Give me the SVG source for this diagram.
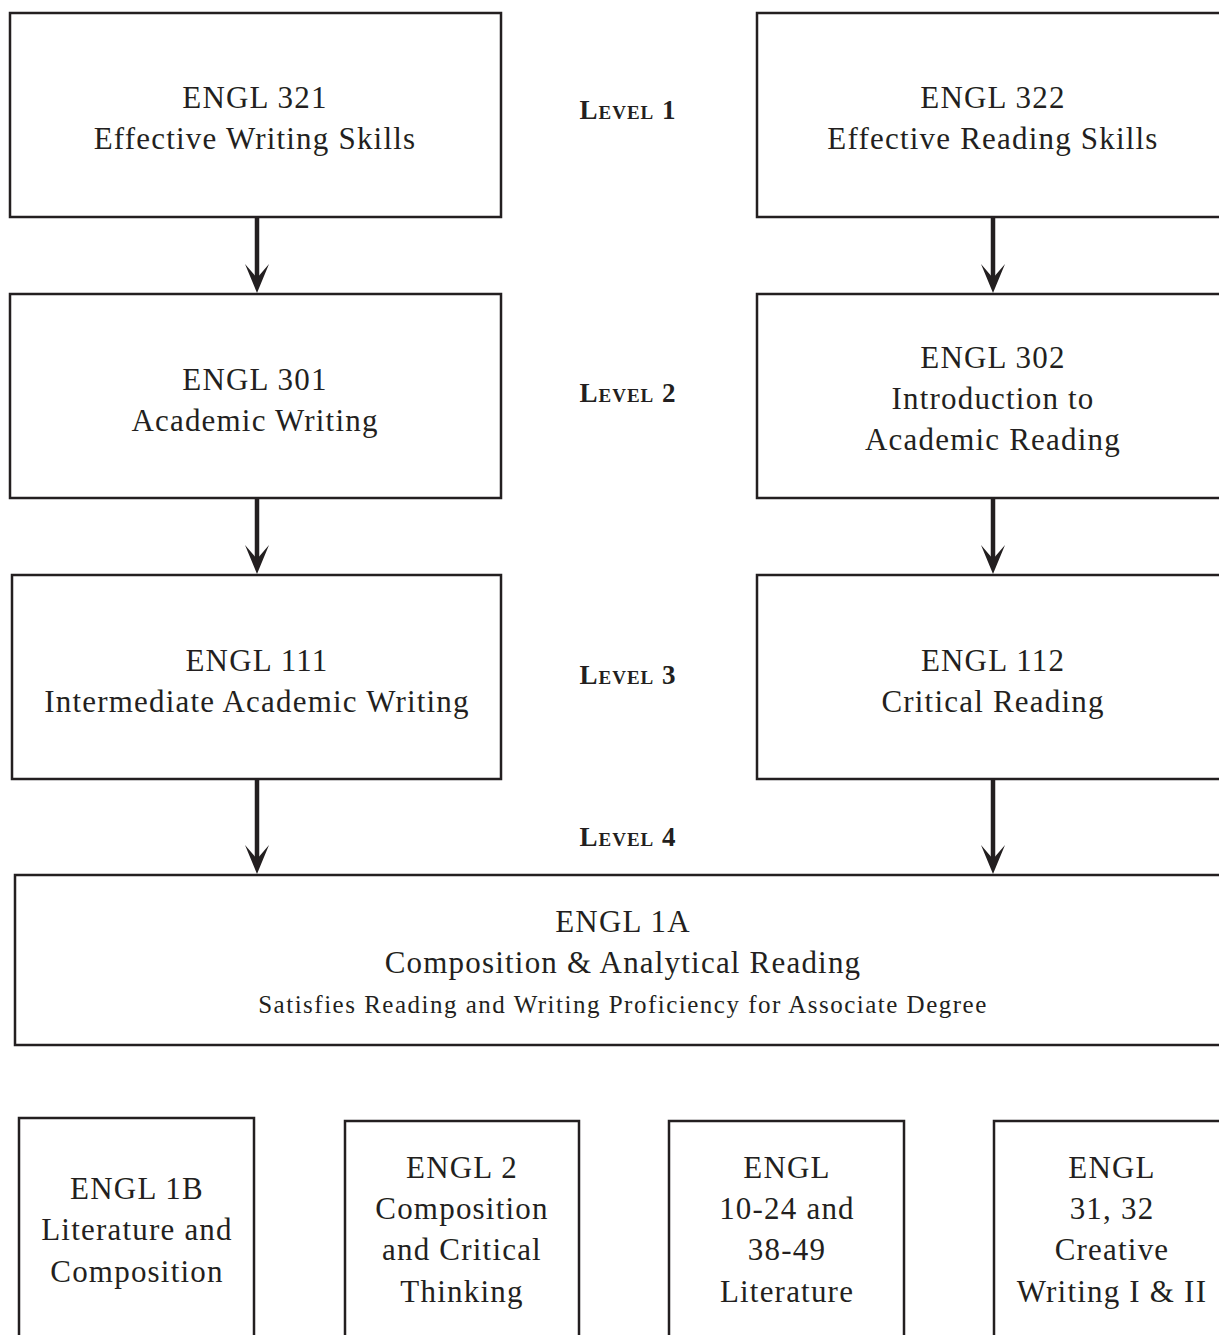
<svg xmlns="http://www.w3.org/2000/svg" width="1219" height="1335" viewBox="0 0 1219 1335">
<style>
.box{fill:#fff;stroke:#231f20;stroke-width:2.5}
.t{font-family:"Liberation Serif","Times New Roman",serif;font-size:31px;letter-spacing:1.2px;fill:#231f20;text-anchor:middle}
.s{font-size:25px;letter-spacing:1.5px}
.lv{font-family:"Liberation Serif","Times New Roman",serif;font-size:27px;font-weight:bold;font-variant:small-caps;fill:#231f20;text-anchor:middle;letter-spacing:1px}
.c{stroke:#231f20;stroke-width:4.5;fill:none}
</style>
<defs>
<marker id="ah" markerUnits="userSpaceOnUse" markerWidth="40" markerHeight="32" viewBox="-32 -16 40 32" refX="-14" refY="0" orient="auto" overflow="visible">
<path d="M0,0 L-29,-12 L-15,0 L-29,12 Z" fill="#231f20"/>
</marker>
</defs>
<g id="connectors">
<line class="c" x1="257" y1="217" x2="257" y2="279" marker-end="url(#ah)"/>
<line class="c" x1="993" y1="217" x2="993" y2="279" marker-end="url(#ah)"/>
<line class="c" x1="257" y1="498" x2="257" y2="560" marker-end="url(#ah)"/>
<line class="c" x1="993" y1="498" x2="993" y2="560" marker-end="url(#ah)"/>
<line class="c" x1="257" y1="779" x2="257" y2="860" marker-end="url(#ah)"/>
<line class="c" x1="993" y1="779" x2="993" y2="860" marker-end="url(#ah)"/>
</g>
<g id="levels">
<text class="lv" x="628" y="119">Level 1</text>
<text class="lv" x="628" y="402">Level 2</text>
<text class="lv" x="628" y="684">Level 3</text>
<text class="lv" x="628" y="846">Level 4</text>
</g>
<g id="engl321">
<rect class="box" x="10" y="13" width="491" height="204"/>
<text class="t" x="255" y="108">ENGL 321</text>
<text class="t" x="255" y="149">Effective Writing Skills</text>
</g>
<g id="engl322">
<rect class="box" x="757" y="13" width="480" height="204"/>
<text class="t" x="993" y="108">ENGL 322</text>
<text class="t" x="993" y="149">Effective Reading Skills</text>
</g>
<g id="engl301">
<rect class="box" x="10" y="294" width="491" height="204"/>
<text class="t" x="255" y="390">ENGL 301</text>
<text class="t" x="255" y="431">Academic Writing</text>
</g>
<g id="engl302">
<rect class="box" x="757" y="294" width="480" height="204"/>
<text class="t" x="993" y="368">ENGL 302</text>
<text class="t" x="993" y="409">Introduction to</text>
<text class="t" x="993" y="450">Academic Reading</text>
</g>
<g id="engl111">
<rect class="box" x="12" y="575" width="489" height="204"/>
<text class="t" x="257" y="671">ENGL 111</text>
<text class="t" x="257" y="712">Intermediate Academic Writing</text>
</g>
<g id="engl112">
<rect class="box" x="757" y="575" width="480" height="204"/>
<text class="t" x="993" y="671">ENGL 112</text>
<text class="t" x="993" y="712">Critical Reading</text>
</g>
<g id="engl1a">
<rect class="box" x="15" y="875" width="1222" height="170"/>
<text class="t" x="623" y="932">ENGL 1A</text>
<text class="t" x="623" y="973">Composition &amp; Analytical Reading</text>
<text class="t s" x="623" y="1013">Satisfies Reading and Writing Proficiency for Associate Degree</text>
</g>
<g id="engl1b">
<rect class="box" x="19" y="1118" width="235" height="240"/>
<text class="t" x="137" y="1199">ENGL 1B</text>
<text class="t" x="137" y="1240">Literature and</text>
<text class="t" x="137" y="1282">Composition</text>
</g>
<g id="engl2">
<rect class="box" x="345" y="1121" width="234" height="240"/>
<text class="t" x="462" y="1178">ENGL 2</text>
<text class="t" x="462" y="1219">Composition</text>
<text class="t" x="462" y="1260">and Critical</text>
<text class="t" x="462" y="1302">Thinking</text>
</g>
<g id="engl10">
<rect class="box" x="669" y="1121" width="235" height="240"/>
<text class="t" x="787" y="1178">ENGL</text>
<text class="t" x="787" y="1219">10-24 and</text>
<text class="t" x="787" y="1260">38-49</text>
<text class="t" x="787" y="1302">Literature</text>
</g>
<g id="engl31">
<rect class="box" x="994" y="1121" width="235" height="240"/>
<text class="t" x="1112" y="1178">ENGL</text>
<text class="t" x="1112" y="1219">31, 32</text>
<text class="t" x="1112" y="1260">Creative</text>
<text class="t" x="1112" y="1302">Writing I &amp; II</text>
</g>
</svg>
